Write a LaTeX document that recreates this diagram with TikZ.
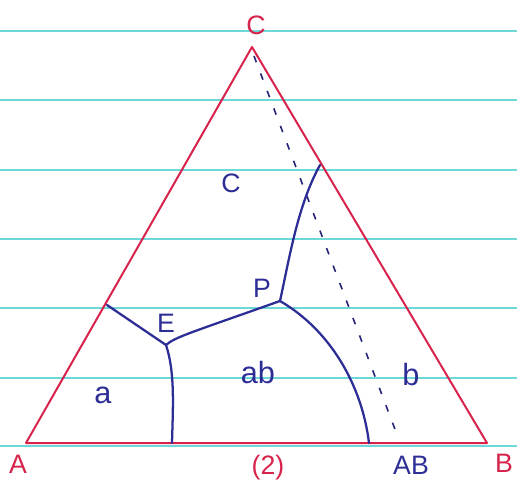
\documentclass[tikz,border=0pt]{standalone}
\usepackage{fontspec}
\setmainfont{Liberation Sans}
\definecolor{rulecyan}{RGB}{110,215,215}
\definecolor{inkred}{RGB}{215,35,75}
\definecolor{inkblue}{RGB}{45,45,150}
\begin{document}
\begin{tikzpicture}[x=0.75pt,y=-0.75pt,
  paper/.style={draw=rulecyan, line width=1.2pt},
  edge/.style={draw=inkred, line width=1.5pt, line join=round},
  phase/.style={draw=inkblue, line width=1.7pt, line cap=round},
  tie/.style={draw=inkblue!80!black, line width=1.2pt, dash pattern=on 5pt off 9pt},
  redlab/.style={text=inkred, font=\fontsize{20}{22}\selectfont},
  bluelab/.style={text=inkblue, font=\fontsize{20}{22}\selectfont},
  bluesmall/.style={text=inkblue, font=\fontsize{23}{24}\selectfont}]
\useasboundingbox (0,0) rectangle (517,491);
% ruled paper
\foreach \yy in {31,100,170,239,308,378,446}
  \draw[paper] (0,\yy) -- (517,\yy);
% vertices and points
\coordinate (A) at (26,443);
\coordinate (B) at (487,443);
\coordinate (C) at (252,47);
\coordinate (E) at (166,345);
\coordinate (P) at (280,301);
\coordinate (Lft) at (107,305);
\coordinate (Top) at (320,165);
\coordinate (Ebase) at (172,443);
\coordinate (Pbase) at (369,443);
\coordinate (Cdash) at (254,56);
\coordinate (ABend) at (396,432);
% triangle
\draw[edge] (A) -- (B) -- (C) -- cycle;
% tie line
\draw[tie] (Cdash) -- (ABend);
% boundary curves
\draw[phase] (Lft) -- (E);
\draw[phase] (E) .. controls (175,372) and (173,405) .. (Ebase);
\draw[phase] (E) .. controls (175,337) and (190,333) .. (P);
\draw[phase] (P) .. controls (290,255) and (298,205) .. (Top);
\draw[phase] (P) .. controls (330,330) and (362,385) .. (Pbase);
% labels
\node[redlab] (lC) at (256,25) {C};
\node[redlab] (lA) at (18,464) {A};
\node[redlab] (lB) at (504,463) {B};
\node[redlab] (l2) at (268,468) {(2)};
\node[bluelab] (lAB) at (411,465) {AB};
\node[bluelab] (lc) at (231,183) {C};
\node[bluelab] (lE) at (166,323) {E};
\node[bluelab] (lP) at (262,288) {P};
\node[bluesmall] (la) at (103,395) {a};
\node[bluesmall] (lab) at (258,373) {ab};
\node[bluesmall] (lb) at (411,375) {b};
\end{tikzpicture}
\end{document}
